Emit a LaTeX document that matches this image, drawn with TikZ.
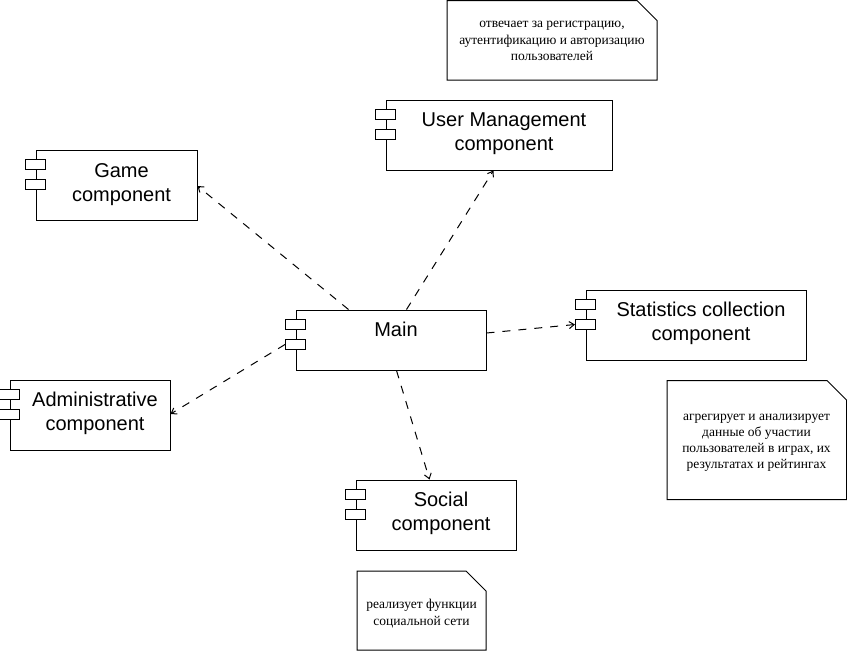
\documentclass[tikz,border=0pt]{standalone}
\usepackage{fontspec}
\setmainfont{Liberation Serif}
\newfontfamily\compfont{Liberation Sans}
\newfontfamily\notefont{Liberation Serif}
\usetikzlibrary{calc,arrows.meta}
\begin{document}
\begin{tikzpicture}[x=1pt,y=-1pt,
  comp/.style={draw,line width=1pt,rectangle,inner sep=0pt,fill=white},
  tab/.style={draw,line width=1pt,rectangle,inner sep=0pt,minimum width=20pt,minimum height=10pt,fill=white},
  lbl/.style={anchor=base,inner sep=0pt,font=\compfont\fontsize{20}{24}\selectfont},
  nlbl/.style={anchor=base,inner sep=0pt,font=\notefont\fontsize{13.5}{16}\selectfont},
  notebox/.style={draw,line width=1pt,line join=miter},
  dep/.style={draw,line width=1pt,dash pattern=on 8pt off 8pt,-{Straight Barb[length=5pt,width=7pt,line width=1pt]}}]
\useasboundingbox (0,0) rectangle (847,651);
% components
\node[comp,minimum width=190pt,minimum height=60pt] (main) at (391,340) {};
\node[comp,minimum width=161pt,minimum height=70pt] (game) at (116.5,185) {};
\node[comp,minimum width=160pt,minimum height=70pt] (admin) at (90,415) {};
\node[comp,minimum width=226pt,minimum height=70pt] (user) at (499,135) {};
\node[comp,minimum width=220pt,minimum height=70pt] (stats) at (696,325) {};
\node[comp,minimum width=160pt,minimum height=70pt] (social) at (436,515) {};
% tabs
\foreach \c in {main,game,admin,user,stats,social}{
  \node[tab] (\c tab1) at ($(\c.north west)+(0,15)$) {};
  \node[tab] (\c tab2) at ($(\c.north west)+(0,35)$) {};
}
% labels
\node[lbl] (mainl) at (396,336) {Main};
\node[lbl] (gamel1) at (121.5,177.5) {Game};
\node[lbl] (gamel2) at (121.5,201.5) {component};
\node[lbl] (adminl1) at (95,406) {Administrative};
\node[lbl] (adminl2) at (95,430) {component};
\node[lbl] (userl1) at (504,126) {User Management};
\node[lbl] (userl2) at (504,150) {component};
\node[lbl] (statsl1) at (701,316) {Statistics collection};
\node[lbl] (statsl2) at (701,340) {component};
\node[lbl] (sociall1) at (441,506) {Social};
\node[lbl] (sociall2) at (441,530) {component};
% notes
\draw[notebox] (447,0.5) -- (637,0.5) -- (657,20.5) -- (657,80) -- (447,80) -- cycle;
\node[nlbl] (n1a) at (552,27.5) {отвечает за регистрацию,};
\node[nlbl] (n1b) at (552,44) {аутентификацию и авторизацию};
\node[nlbl] (n1c) at (552,60.5) {пользователей};
\draw[notebox] (667,380.5) -- (827,380.5) -- (846.5,400) -- (846.5,499.5) -- (667,499.5) -- cycle;
\node[nlbl] (n2a) at (756.5,420) {агрегирует и анализирует};
\node[nlbl] (n2b) at (756.5,436) {данные об участии};
\node[nlbl] (n2c) at (756.5,452) {пользователей в играх, их};
\node[nlbl] (n2d) at (756.5,468) {результатах и рейтингах};
\draw[notebox] (357,571) -- (466,571) -- (486,591) -- (486,650) -- (357,650) -- cycle;
\node[nlbl] (n3a) at (421.5,608) {реализует функции};
\node[nlbl] (n3b) at (421.5,625) {социальной сети};
% connector end points
\coordinate (sG) at ($(main.north west)+(53,0)$);
\coordinate (eG) at ($(game.east)+(0,1)$);
\coordinate (sU) at ($(main.north west)+(111,0)$);
\coordinate (eU) at ($(user.south west)+(108,0)$);
\coordinate (sS) at ($(main.east)+(0,-7)$);
\coordinate (sA) at (maintab2.west);
\coordinate (eA) at ($(admin.east)+(0,-1)$);
\coordinate (sO) at ($(main.south west)+(101,0)$);
\coordinate (eO) at ($(social.north west)+(74,0)$);
% connectors
\draw[dep] (sG) -- (eG);
\draw[dep] (sU) -- (eU);
\draw[dep] (sS) -- (statstab2.west);
\draw[dep] (sA) -- (eA);
\draw[dep] (sO) -- (eO);
\end{tikzpicture}
\end{document}
